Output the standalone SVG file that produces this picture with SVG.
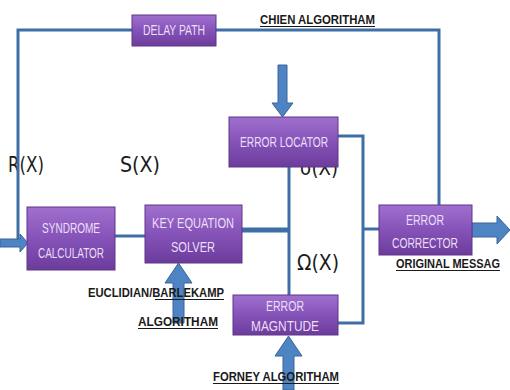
<svg xmlns="http://www.w3.org/2000/svg" width="510" height="390" viewBox="0 0 510 390">
  <defs>
    <linearGradient id="boxFill" x1="0" y1="0" x2="0" y2="1">
      <stop offset="0" stop-color="#a070cf"/>
      <stop offset="0.5" stop-color="#8553b8"/>
      <stop offset="1" stop-color="#6c3c9c"/>
    </linearGradient>
  </defs>
  <style>
    .box { fill: url(#boxFill); stroke: #5e3489; stroke-width: 1; }
    .blab { font-family: "Liberation Sans", Arial, sans-serif; font-size: 14px; fill: #ebdff7; text-anchor: middle; }
    .line { fill: none; stroke: #3e6ea6; stroke-width: 3; }
    .fat { fill: #4f84c4; stroke: #3b6597; stroke-width: 1; }
    .note { font-family: "Liberation Sans", Arial, sans-serif; font-size: 12px; font-weight: bold; fill: #1a1a1a; }
    .ul { stroke: #1a1a1a; stroke-width: 1.2; }
    .poly { font-family: "DejaVu Sans", "Liberation Sans", sans-serif; font-size: 21px; fill: #1a1a1a; }
  </style>

  <!-- polynomial labels (drawn first so the boxes sit on top) -->
  <text class="poly" x="8" y="172" textLength="36" lengthAdjust="spacingAndGlyphs">R(X)</text>
  <text class="poly" x="120" y="172" textLength="40" lengthAdjust="spacingAndGlyphs">S(X)</text>
  <text class="poly" x="300" y="175" textLength="38" lengthAdjust="spacingAndGlyphs">σ(X)</text>
  <text class="poly" x="297" y="270" textLength="42" lengthAdjust="spacingAndGlyphs">Ω(X)</text>

  <!-- connectors -->
  <g id="connectors">
    <!-- delay path loop from input to corrector -->
    <polyline class="line" points="18,243 18,30 132,30"/>
    <polyline class="line" points="216,30 439,30 439,206"/>
    <!-- syndrome to key equation solver -->
    <line class="line" x1="115" y1="236" x2="145" y2="236"/>
    <!-- key equation solver to branch -->
    <line class="line" x1="242" y1="230" x2="290" y2="230" style="stroke-width:5"/>
    <line class="line" x1="289" y1="167" x2="289" y2="296"/>
    <!-- locator / magnitude into corrector -->
    <polyline class="line" points="338,136 363,136 363,323 338,323"/>
    <line class="line" x1="363" y1="229" x2="379" y2="229"/>
    <!-- input arrow -->
    <path class="fat" d="M0,239 H20 V234 L28,243 L20,252 V247 H0 Z"/>
    <!-- output arrow -->
    <path class="fat" d="M472,223 H497 V216 L510,230 L497,244 V237 H472 Z"/>
    <!-- Chien algorithm arrow into locator -->
    <path class="fat" d="M278,65 H287 V103 H293 L282.5,117 L272,103 H278 Z"/>
    <!-- Euclidian/Berlekamp arrow into solver -->
    <path class="fat" d="M173,323 H184 V283 H192 L178.5,263 L165,283 H173 Z"/>
    <!-- Forney arrow into magnitude -->
    <path class="fat" d="M283,390 H294 V356 H302 L288.5,336 L275,356 H283 Z"/>
  </g>

  <g id="delay-path">
    <rect class="box" x="132" y="15" width="84" height="31"/>
    <text class="blab" x="174" y="35" textLength="62" lengthAdjust="spacingAndGlyphs">DELAY PATH</text>
  </g>

  <g id="syndrome-calculator">
    <rect class="box" x="27" y="207" width="88" height="63"/>
    <text class="blab" x="71" y="233" textLength="58" lengthAdjust="spacingAndGlyphs">SYNDROME</text>
    <text class="blab" x="71" y="258" textLength="66" lengthAdjust="spacingAndGlyphs">CALCULATOR</text>
  </g>

  <g id="key-equation-solver">
    <rect class="box" x="145" y="205" width="97" height="58"/>
    <text class="blab" x="193" y="228" textLength="82" lengthAdjust="spacingAndGlyphs">KEY EQUATION</text>
    <text class="blab" x="193" y="252" textLength="44" lengthAdjust="spacingAndGlyphs">SOLVER</text>
  </g>

  <g id="error-locator">
    <rect class="box" x="229" y="117" width="109" height="50"/>
    <text class="blab" x="284" y="147" textLength="88" lengthAdjust="spacingAndGlyphs">ERROR LOCATOR</text>
  </g>

  <g id="error-corrector">
    <rect class="box" x="379" y="205" width="93" height="50"/>
    <text class="blab" x="425" y="225" textLength="38" lengthAdjust="spacingAndGlyphs">ERROR</text>
    <text class="blab" x="425" y="248" textLength="66" lengthAdjust="spacingAndGlyphs">CORRECTOR</text>
  </g>

  <g id="error-magnitude">
    <rect class="box" x="233" y="295" width="105" height="40"/>
    <text class="blab" x="285" y="311" textLength="38" lengthAdjust="spacingAndGlyphs">ERROR</text>
    <text class="blab" x="285" y="331" textLength="68" lengthAdjust="spacingAndGlyphs">MAGNTUDE</text>
  </g>

  <!-- algorithm notes -->
  <g id="chien-label">
    <text class="note" x="260" y="24" textLength="115" lengthAdjust="spacingAndGlyphs">CHIEN ALGORITHAM</text>
    <line class="ul" x1="260" y1="26.5" x2="375" y2="26.5"/>
  </g>
  <g id="euclid-label">
    <text class="note" x="88" y="297" textLength="136" lengthAdjust="spacingAndGlyphs">EUCLIDIAN/BARLEKAMP</text>
    <line class="ul" x1="155" y1="299.5" x2="224" y2="299.5"/>
    <text class="note" x="138" y="326" textLength="80" lengthAdjust="spacingAndGlyphs">ALGORITHAM</text>
    <line class="ul" x1="138" y1="328.5" x2="218" y2="328.5"/>
  </g>
  <g id="forney-label">
    <text class="note" x="213" y="381" textLength="126" lengthAdjust="spacingAndGlyphs">FORNEY ALGORITHAM</text>
    <line class="ul" x1="213" y1="383.5" x2="339" y2="383.5"/>
  </g>
  <g id="message-label">
    <text class="note" x="396" y="268" textLength="104" lengthAdjust="spacingAndGlyphs">ORIGINAL MESSAG</text>
    <line class="ul" x1="396" y1="270.5" x2="500" y2="270.5"/>
  </g>
</svg>
